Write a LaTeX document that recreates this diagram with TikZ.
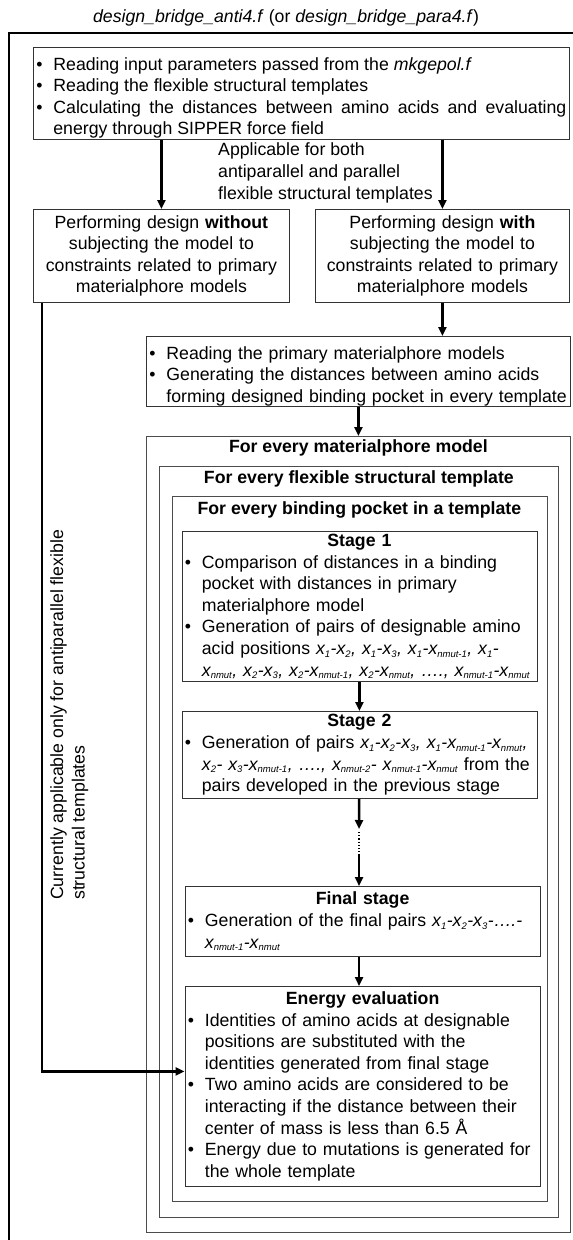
\documentclass[tikz,border=0pt]{standalone}
\usepackage{fontspec}
\setmainfont{Liberation Sans}
\usetikzlibrary{arrows.meta, positioning}
\newcommand{\bitem}{\par\hangindent=17pt\hangafter=1\noindent\makebox[17pt][l]{\textbullet}}
\newcommand{\xs}[1]{x\textsubscript{\fontsize{9.5}{9.5}\selectfont #1}}

\begin{document}
\begin{tikzpicture}[
            x=1pt, y=-1pt,
            every node/.style={font=\fontsize{17.7}{21.6}\selectfont},
            box/.style={draw=black!80, line width=0.8pt, anchor=north west, inner xsep=3pt, inner ysep=1pt, align=left},
            loopframe/.style={draw=black!70, line width=0.8pt, anchor=north west, inner sep=0pt},
            looptitle/.style={font=\fontsize{17.7}{21.6}\selectfont\bfseries},
            flow/.style={draw, line width=2.4pt, -{Triangle[length=9pt, width=8pt]}},
        ]
        \useasboundingbox (0,0) rectangle (573,1240);
        \node (title) at (286,18) {\textit{design\_bridge\_anti4.f} (or \textit{design\_bridge\_para4.f})};
        \draw[line width=1.2pt] (573,33) -- (9,33) -- (9,1240);
        
        \node[box, text width=530pt, minimum height=89pt, align=justify] (input) at (33,47) {%
            \bitem Reading input parameters passed from the \textit{mkgepol.f}
            \bitem Reading the flexible structural templates
            \bitem Calculating the distances between amino acids and evaluating\linebreak energy through SIPPER force field\par};
        \node[anchor=west, align=left, inner sep=0pt] (applicable) at (218,173) {Applicable for both\\antiparallel and parallel\\flexible structural templates};
        
        \node[box, text width=250pt, minimum height=93pt, align=center] (without) at (33,209) {Performing design \textbf{without}\\subjecting the model to\\constraints related to primary\\materialphore models};
        \node[box, text width=248pt, minimum height=93pt, align=center] (with) at (315,209) {Performing design \textbf{with}\\subjecting the model to\\constraints related to primary\\materialphore models};
        
        \node[box, text width=418pt, minimum height=68pt] (primary) at (146,336) {%
            \bitem Reading the primary materialphore models
            \bitem Generating the distances between amino acids\newline forming designed binding pocket in every template\par};
        
        \node[loopframe, minimum width=424pt, minimum height=796pt] (mpm) at (146,436) {};
        \node[loopframe, minimum width=399pt, minimum height=751pt] (flex) at (159,466) {};
        \node[loopframe, minimum width=375pt, minimum height=705pt] (pocket) at (171.5,496) {};
        \node[looptitle] (mpmtitle) at ([yshift=-12pt]mpm.north) {For every materialphore model};
        \node[looptitle] (flextitle) at ([yshift=-13pt]flex.north) {For every flexible structural template};
        \node[looptitle] (pockettitle) at ([yshift=-14pt]pocket.north) {For every binding pocket in a template};
        
        \node[box, text width=349pt, minimum height=150pt] (stage1) at (181.5,531) {%
            {\centering\bfseries Stage 1\par}
            \bitem Comparison of distances in a binding\newline pocket with distances in primary\newline materialphore model
            \bitem Generation of pairs of designable amino\newline acid positions \textit{\xs{1}-\xs{2}, \xs{1}-\xs{3}, \xs{1}-\xs{nmut-1}, \xs{1}-}\newline \mbox{\textit{\xs{nmut}, \xs{2}-\xs{3}, \xs{2}-\xs{nmut-1}, \xs{2}-\xs{nmut}, …., \xs{nmut-1}-\xs{nmut}}}\par};
        \node[box, text width=349pt, minimum height=87pt] (stage2) at (181.5,711) {%
            {\centering\bfseries Stage 2\par}
            \bitem Generation of pairs \textit{\xs{1}-\xs{2}-\xs{3}, \xs{1}-\xs{nmut-1}-\xs{nmut},}\newline \mbox{\textit{\xs{2}- \xs{3}-\xs{nmut-1}, …., \xs{nmut-2}- \xs{nmut-1}-\xs{nmut}} from the}\newline pairs developed in the previous stage\par};
        \node[box, text width=349.5pt, minimum height=70pt] (final) at (184.5,886) {%
            {\centering\bfseries Final stage\par}
            \bitem Generation of the final pairs \textit{\xs{1}-\xs{2}-\xs{3}-….-}\newline \textit{\xs{nmut-1}-\xs{nmut}}\par};
        \node[box, text width=349.5pt, minimum height=200pt] (energy) at (184.5,986) {%
            {\centering\bfseries Energy evaluation\par}
            \bitem Identities of amino acids at designable\newline positions are substituted with the\newline identities generated from final stage
            \bitem Two amino acids are considered to be\newline interacting if the distance between their\newline center of mass is less than 6.5 Å
            \bitem Energy due to mutations is generated for\newline the whole template\par};
        
        \node[rotate=90, anchor=north west, align=left, inner sep=0pt] (antinote) at (50,900) {Currently applicable only for antiparallel flexible\\structural templates};
        
        \coordinate (dtop) at (359,829);
        \coordinate (dbot) at (359,855);
        
        \draw[flow] (without.north |- input.south) -- (without.north);
        \draw[flow] (with.north |- input.south) -- (with.north);
        \draw[flow] (with.south) -- (with.south |- primary.north);
        \draw[flow] (primary) -- (mpm);
        \draw[flow] (stage1) -- (stage2);
        \draw[flow] (stage2) -- (dtop);
        \draw[dotted, line width=1.2pt, shorten <=3pt] (dtop) -- (dbot);
        \draw[flow] (dbot) -- (dbot |- final.north);
        \draw[flow] (dbot |- final.south) -- (dbot |- energy.north);
        \draw[flow] ([xshift=9pt]without.south west) |- ([yshift=15pt]energy.west);
        \end{tikzpicture}
\end{document}
